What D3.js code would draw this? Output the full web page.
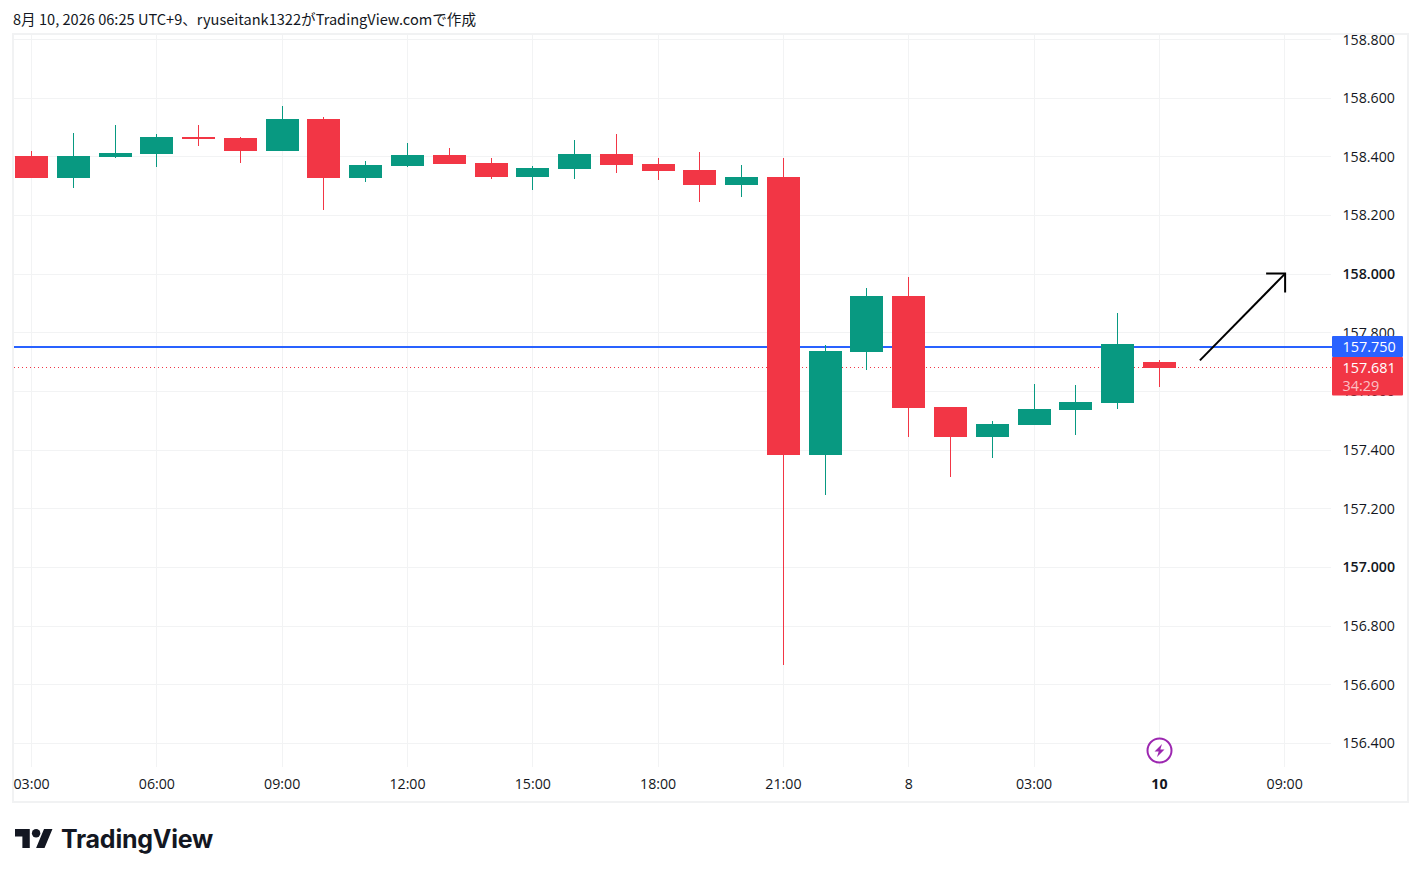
<!DOCTYPE html>
<html lang="ja">
<head>
<meta charset="utf-8">
<script src="https://cdn.jsdelivr.net/npm/d3@7"></script>
<style>
html,body{margin:0;padding:0;background:#fff;overflow:hidden}
svg{display:block}
text{font-family:"Open Sans","Noto Sans",sans-serif;fill:#131722}
</style>
</head>
<body>
<svg id="chart" width="1421" height="877"></svg>
<script>
// ---- data ----
const hourIndex = d3.range(28);
const opens  = [158.404,158.329,158.401,158.411,158.469,158.466,158.421,158.530,158.329,158.370,158.408,158.380,158.333,158.360,158.411,158.377,158.356,158.305,158.333,157.384,157.736,157.927,157.548,157.446,157.487,157.538,157.562,157.702];
const closes = [158.329,158.404,158.414,158.469,158.462,158.421,158.530,158.329,158.373,158.408,158.377,158.333,158.363,158.411,158.373,158.353,158.305,158.333,157.384,157.739,157.927,157.545,157.446,157.490,157.541,157.565,157.763,157.681];
const highs  = [158.421,158.483,158.510,158.479,158.510,158.469,158.575,158.537,158.387,158.449,158.431,158.397,158.370,158.459,158.479,158.397,158.418,158.373,158.397,157.760,157.954,157.991,157.548,157.500,157.627,157.623,157.869,157.708];
const lows   = [158.329,158.295,158.397,158.367,158.438,158.380,158.421,158.220,158.315,158.367,158.377,158.326,158.288,158.326,158.346,158.322,158.247,158.264,156.668,157.248,157.674,157.446,157.309,157.374,157.487,157.453,157.541,157.616];
const priceTicks = [158.8,158.6,158.4,158.2,158.0,157.8,157.6,157.4,157.2,157.0,156.8,156.6,156.4];
const boldPrices = [158.0,157.0];
const timeTickIndex = [0,3,6,9,12,15,18,21,24,27,30];
const timeTickLabels = ["03:00","06:00","09:00","12:00","15:00","18:00","21:00","8","03:00","10","09:00"];
const boldTimeLabels = ["10"];
const markedPrice = 157.750;
const lastPrice = 157.681;
const markedLabel = "157.750";
const lastLabel = "157.681";
const countdown = "34:29";
const arrowIndex = [27.97, 30.01];
const arrowPrice = [157.706, 158.002];
const titleText = "8月 10, 2026 06:25 UTC+9、ryuseitank1322がTradingView.comで作成";
const brandText = "TradingView";

// ---- styles ----
const UP = "#089981", DOWN = "#f23645", BLUE = "#2962ff", GRID = "#f2f3f4", FRAME = "#f1f2f3";
const svg = d3.select("#chart");
const x = d3.scaleLinear().domain([0,30]).range([31.56,1284.7]);
const y = d3.scaleLinear().domain([158.8,156.4]).range([39.64,743.3]);
const px = v => Math.floor(x(v));
const py = v => Math.floor(y(v));

// frame
svg.append("rect").attr("x",13).attr("y",34).attr("width",1395).attr("height",767.5)
  .attr("fill","none").attr("stroke",FRAME).attr("stroke-width",2).attr("shape-rendering","crispEdges");

// grid
const grid = svg.append("g").attr("shape-rendering","crispEdges").attr("stroke",GRID).attr("stroke-width",1);
grid.selectAll("line.h").data(priceTicks).join("line").attr("class","h")
  .attr("x1",14).attr("x2",1331).attr("y1",d=>py(d)+.5).attr("y2",d=>py(d)+.5);
grid.selectAll("line.v").data(timeTickIndex).join("line").attr("class","v")
  .attr("x1",d=>px(d)+.5).attr("x2",d=>px(d)+.5).attr("y1",35).attr("y2",767);

// marked price + last price lines
svg.append("line").attr("x1",14).attr("x2",1332).attr("y1",py(lastPrice)+.5).attr("y2",py(lastPrice)+.5)
  .attr("stroke",DOWN).attr("stroke-dasharray","1 3").attr("shape-rendering","crispEdges");
svg.append("rect").attr("x",14).attr("width",1318).attr("y",py(markedPrice)-1).attr("height",2).attr("fill",BLUE);

// candles
const candles = hourIndex.map(i=>({i,o:opens[i],c:closes[i],h:highs[i],l:lows[i]}));
const cg = svg.append("g").attr("shape-rendering","crispEdges");
const colour = d => d.c>=d.o ? UP : DOWN;
cg.selectAll("rect.w").data(candles).join("rect").attr("class","w")
  .attr("x",d=>px(d.i)).attr("width",1)
  .attr("y",d=>Math.round(y(d.h))).attr("height",d=>Math.round(y(d.l))-Math.round(y(d.h)))
  .attr("fill",colour);
cg.selectAll("rect.b").data(candles).join("rect").attr("class","b")
  .attr("x",d=>px(d.i)-16).attr("width",33)
  .attr("y",d=>Math.round(y(Math.max(d.o,d.c))))
  .attr("height",d=>Math.max(1,Math.round(y(Math.min(d.o,d.c)))-Math.round(y(Math.max(d.o,d.c)))))
  .attr("fill",colour);

// arrow annotation
const ax0=x(arrowIndex[0]), ay0=y(arrowPrice[0]), ax1=x(arrowIndex[1]), ay1=y(arrowPrice[1]);
svg.append("path").attr("fill","none").attr("stroke","#000").attr("stroke-width",2)
  .attr("d",d3.line()([[ax0,ay0],[ax1,ay1]]));
svg.append("path").attr("fill","none").attr("stroke","#000").attr("stroke-width",2)
  .attr("d",d3.line()([[ax1-19,ay1],[ax1,ay1],[ax1,ay1+19]]));

// price axis
const yAxis = svg.append("g").attr("transform","translate(1342.5,-0.4)")
  .call(d3.axisRight(y).tickValues(priceTicks).tickSize(0).tickPadding(0).tickFormat(d3.format(".3f")));
yAxis.select(".domain").remove();
yAxis.selectAll("text").attr("font-size",14.2).style("font-family",'"Open Sans"').style("fill","#131722")
  .attr("font-weight",d=>boldPrices.includes(d)?600:400).attr("dy","0.34em");

// time axis
const xAxis = svg.append("g").attr("transform","translate(-0.5,775)")
  .call(d3.axisBottom(x).tickValues(timeTickIndex).tickSize(0).tickPadding(0)
    .tickFormat((d,i)=>timeTickLabels[i]));
xAxis.select(".domain").remove();
xAxis.selectAll("text").attr("font-size",14.2).style("font-family",'"Open Sans"').style("fill","#131722")
  .attr("y",0).attr("dy","1em")
  .attr("font-weight",(d,i)=>boldTimeLabels.includes(timeTickLabels[i])?700:400);

// price tags
const tagX=1332, tagW=71;
const my=py(markedPrice);
svg.append("rect").attr("x",tagX).attr("y",my-11).attr("width",tagW).attr("height",21).attr("fill",BLUE).attr("rx",1);
svg.append("rect").attr("x",tagX).attr("y",my+10).attr("width",tagW).attr("height",38.5).attr("fill",DOWN).attr("rx",1);
svg.append("text").attr("x",1342.5).attr("y",my-.5).attr("dy","0.35em").attr("font-size",14.4).attr("font-weight",500).style("fill","#fff").text(markedLabel);
svg.append("text").attr("x",1342.5).attr("y",py(lastPrice)+.5).attr("dy","0.35em").attr("font-size",14.4).attr("font-weight",500).style("fill","#fff").text(lastLabel);
svg.append("text").attr("x",1342.5).attr("y",py(lastPrice)+18.5).attr("dy","0.35em").attr("font-size",14.4).style("fill","#fff").style("fill-opacity",.7).text(countdown);

// event icon (on the "10" session line)
const ic = svg.append("g").attr("transform",`translate(${px(27)+.5},750.5)`);
ic.append("circle").attr("r",12).attr("fill","#fff").attr("stroke","#9c27b0").attr("stroke-width",2);
ic.append("path").attr("d","M2.5,-6.5 L-5,1 L-0.8,1 L-2.5,6.5 L5,-1 L0.8,-1 Z").attr("fill","#9c27b0");

// title
svg.append("text").attr("x",13).attr("y",24.5).attr("font-size",14.6).style("font-family",'"Noto Sans CJK JP"').text(titleText);

// brand
svg.append("path").attr("transform","translate(15,824.8) scale(1.055)")
  .attr("d","M14 22H7V11H0V4h14v18zM28 22h-8l7.5-18h8L28 22z").attr("fill","#131722");
svg.append("circle").attr("cx",15+20*1.055).attr("cy",824.8+8*1.055).attr("r",4*1.055).attr("fill","#131722");
svg.append("text").attr("x",61).attr("y",848).attr("font-size",25).style("font-family","Inter").attr("font-weight",700).attr("letter-spacing",-0.25).text(brandText);
</script>
</body>
</html>
